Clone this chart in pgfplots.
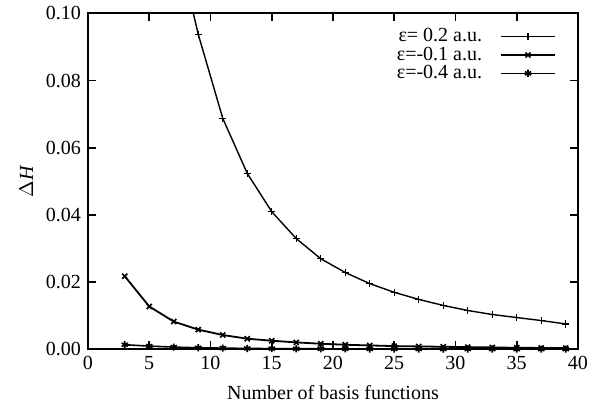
\documentclass[border=0pt]{standalone}
\usepackage{fontspec}
\setmainfont{Liberation Serif}
\usepackage{pgfplots}
\pgfplotsset{compat=1.18}
\begin{document}
\begin{tikzpicture}
\begin{axis}[
  name=ax,
  scale only axis,
  width=245pt, height=168pt,
  xmin=0, xmax=40, ymin=0, ymax=0.1,
  xtick={0,5,...,40},
  ytick={0,0.02,...,0.1},
  tick align=inside,
  tick style={black, line width=0.8pt},
  major tick length=4pt,
  minor tick num=0,
  axis line style={line width=1pt},
  /pgf/number format/assume math mode=true,
  tick label style={font=\fontsize{10}{12}\selectfont},
  label style={font=\fontsize{10}{12}\selectfont},
  yticklabel style={/pgf/number format/fixed, /pgf/number format/fixed zerofill, /pgf/number format/precision=2},
  scaled y ticks=false,
  xlabel={Number of basis functions},
  ylabel={$\Delta$\textit{H}},
  xlabel style={yshift=-1pt},
  ylabel style={yshift=-0.5pt},
  legend style={draw=none, fill=none, at={(0.968,0.98)}, anchor=north east, row sep=-3pt, font=\fontsize{10}{12}\selectfont},
  legend cell align=right,
  legend plot pos=right,
  legend image code/.code={\draw[#1] (0pt,0pt) -- (13.5pt,0pt) -- (27pt,0pt); \path[#1, only marks] plot coordinates {(13.5pt,0pt)};},
]
\addplot[black, line width=0.7pt, mark=+, mark size=1.8pt, mark options={solid, line width=0.7pt}] coordinates {
(7,0.1248) (9,0.0938) (11,0.0688) (13,0.0524) (15,0.0410) (17,0.0330)
(19,0.0270) (21,0.0229) (23,0.0196) (25,0.0170) (27,0.0149) (29,0.0131)
(31,0.0116) (33,0.0104) (35,0.0095) (37,0.0086) (39,0.0076)
};
\addlegendentry{ε= 0.2 a.u.\rule{7pt}{0pt}}
\addplot[black, line width=0.9pt, mark=x, mark size=1.8pt, mark options={solid, line width=0.8pt}] coordinates {
(3,0.0218) (5,0.0128) (7,0.0083) (9,0.0059) (11,0.0043) (13,0.0032)
(15,0.0026) (17,0.0021) (19,0.0017) (21,0.0014) (23,0.0012) (25,0.0010)
(27,0.0009) (29,0.0008) (31,0.0007) (33,0.0006) (35,0.0005) (37,0.00045) (39,0.0004)
};
\addlegendentry{ε=-0.1 a.u.\rule{7pt}{0pt}}
\addplot[black, line width=0.8pt, mark=asterisk, mark size=1.8pt, mark options={solid, line width=0.8pt}] coordinates {
(3,0.0014) (5,0.0010) (7,0.0007) (9,0.0005) (11,0.0004) (13,0.0003)
(15,0.00025) (17,0.0002) (19,0.0002) (21,0.00018) (23,0.00016) (25,0.00015)
(27,0.00014) (29,0.00013) (31,0.00012) (33,0.00011) (35,0.0001) (37,0.0001) (39,0.0001)
};
\addlegendentry{ε=-0.4 a.u.\rule{7pt}{0pt}}
\end{axis}
\path ([xshift=-44pt,yshift=-33.5pt]ax.south west) rectangle ([xshift=13.5pt,yshift=6.5pt]ax.north east);
\end{tikzpicture}
\end{document}
